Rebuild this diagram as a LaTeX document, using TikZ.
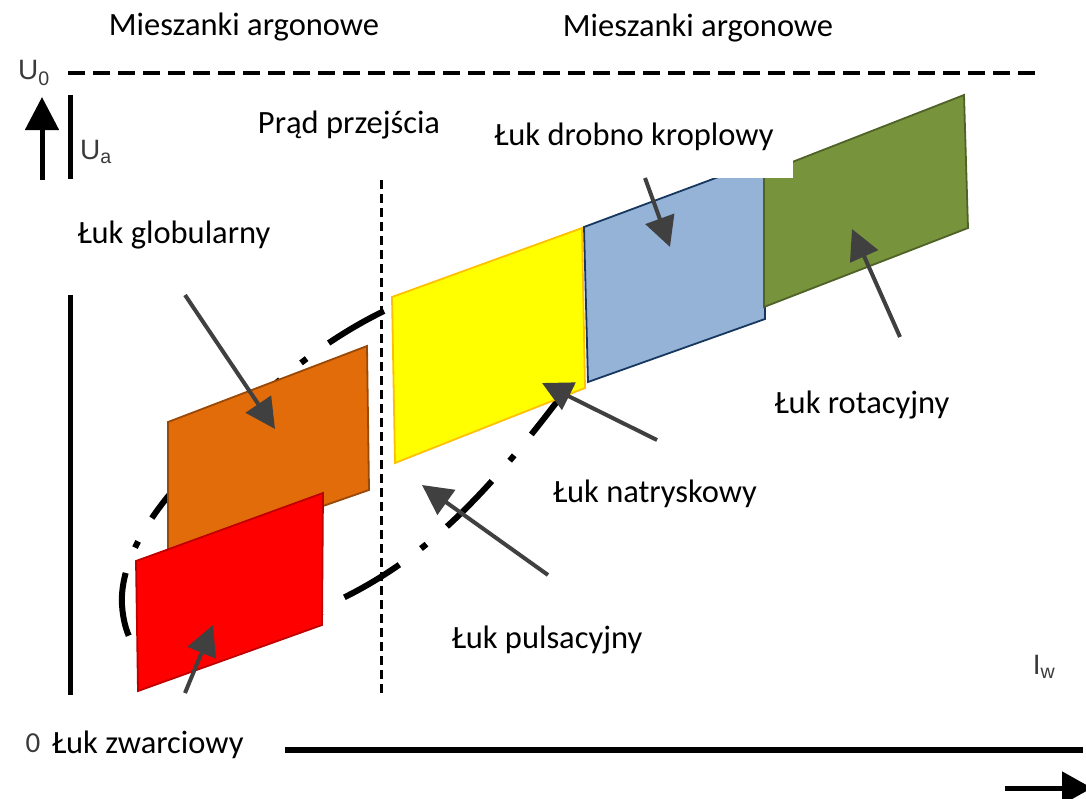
\documentclass[tikz,border=0pt]{standalone}
\usepackage{fontspec}
\setmainfont{Carlito}
\newfontfamily\axfont{Liberation Sans}
\usetikzlibrary{arrows.meta}
\definecolor{arrgray}{HTML}{404040}
\definecolor{axgray}{HTML}{3A3A3A}
\definecolor{redfill}{HTML}{FF0000}
\definecolor{redline}{HTML}{C00000}
\definecolor{orfill}{HTML}{E36C0A}
\definecolor{orline}{HTML}{984807}
\definecolor{yefill}{HTML}{FFFF00}
\definecolor{yeline}{HTML}{FFC000}
\definecolor{blfill}{HTML}{95B3D7}
\definecolor{blline}{HTML}{17375E}
\definecolor{grfill}{HTML}{77933C}
\definecolor{grline}{HTML}{4F6228}
\tikzset{
  lbl/.style={font=\fontsize{32.5}{38}\selectfont, inner sep=0pt, anchor=center},
  axlbl/.style={font=\axfont\fontsize{28}{32}\selectfont, text=axgray, inner sep=0pt},
  pointer/.style={draw=arrgray, line width=4pt, -{Triangle[length=30pt,width=30pt]}},
  regbox/.style={line width=1.8pt, line join=miter},
  envelope/.style={line width=6pt, dash pattern=on 64pt off 27pt on 7pt off 27pt},
  axisline/.style={line width=5pt},
}
\begin{document}
\begin{tikzpicture}[x=1pt,y=-1pt]
\useasboundingbox (0,0) rectangle (1086,798);
% top dashed U0 line
\coordinate (u0s) at (68,73);
\coordinate (u0e) at (1035,73);
\draw[line width=4pt, dash pattern=on 17pt off 8pt] (u0s) -- (u0e);
% vertical axis
\coordinate (va1) at (70,95);
\coordinate (va2) at (70,179);
\coordinate (va3) at (70,295);
\coordinate (va4) at (70,695);
\draw[axisline] (va1) -- (va2);
\draw[axisline] (va3) -- (va4);
% up arrow
\coordinate (upb) at (42,180);
\coordinate (upt) at (42,97);
\draw[line width=5pt, -{Triangle[length=33pt,width=33pt]}] (upb) -- (upt);
% transition dashed line
\coordinate (tr1) at (381,180);
\coordinate (tr2) at (381,697);
\draw[line width=3pt, dash pattern=on 9pt off 5pt] (tr1) -- (tr2);
% bottom axis
\coordinate (ha1) at (285,750);
\coordinate (ha2) at (1083,750);
\draw[line width=6pt] (ha1) -- (ha2);
\coordinate (hr1) at (1005,788);
\coordinate (hr2) at (1092,788);
\draw[line width=5pt, -{Triangle[length=30pt,width=32pt]}] (hr1) -- (hr2);
% envelope (dash-dot), lower branch
\draw[envelope, dash phase=14pt] (562,395) .. controls (490,490) and (430,555) .. (343,598)
  -- (310,620) .. controls (270,640) and (230,655) .. (200,662);
% envelope, upper branch
\draw[envelope] (384,311) .. controls (300,352) and (230,420) .. (170,494)
  .. controls (140,530) and (120,570) .. (122,605)
  .. controls (124,635) and (135,650) .. (148,662);
% boxes
\draw[regbox, fill=orfill, draw=orline] (168,422) -- (367,346) -- (369,490) -- (168,560) -- cycle;
\draw[regbox, fill=redfill, draw=redline] (136,561) -- (323,493) -- (322,625) -- (138,691) -- cycle;
\draw[regbox, fill=yefill, draw=yeline] (392,297) -- (582,228) -- (585,388) -- (395,463) -- cycle;
\draw[regbox, fill=blfill, draw=blline] (584,227) -- (764,160) -- (765,319) -- (588,382) -- cycle;
\draw[regbox, fill=grfill, draw=grline] (764,173) -- (964,95) -- (968,228) -- (764,307) -- cycle;
% white patch over the top of the blue and green regions
\fill[white] (470,100) rectangle (793,178);
% pointer arrows
\coordinate (gs) at (185,295);  \coordinate (gt) at (275,429);
\coordinate (zs) at (185,693);  \coordinate (zt) at (213,625);
\coordinate (ds) at (645,178);  \coordinate (dt) at (670,247);
\coordinate (rs) at (900,337);  \coordinate (rt) at (852,229);
\coordinate (ns) at (657,440);  \coordinate (nt) at (542,383);
\coordinate (ps) at (548,575);  \coordinate (pt) at (422,485);
\draw[pointer] (gs) -- (gt);
\draw[pointer] (zs) -- (zt);
\draw[pointer] (ds) -- (dt);
\draw[pointer] (rs) -- (rt);
\draw[pointer] (ns) -- (nt);
\draw[pointer] (ps) -- (pt);
% labels
\node[lbl] (mix1) at (244,27) {Mieszanki argonowe};
\node[lbl] (mix2) at (698,28) {Mieszanki argonowe};
\node[lbl] (tran) at (349,125) {Prąd przejścia};
\node[lbl] (drob) at (634,137) {Łuk drobno kroplowy};
\node[lbl] (glob) at (174,235) {Łuk globularny};
\node[lbl] (rota) at (862,405) {Łuk rotacyjny};
\node[lbl] (natr) at (655,494) {Łuk natryskowy};
\node[lbl] (puls) at (547,640) {Łuk pulsacyjny};
\node[lbl, anchor=west] (zwar) at (52,745) {Łuk zwarciowy};
\node[lbl, text=axgray, anchor=base, font=\fontsize{29}{34}\selectfont] (zero) at (33,752) {0};
\node[axlbl] (u0) at (34,73) {U\textsubscript{0}};
\node[axlbl] (ua) at (96,152) {U\textsubscript{a}};
\node[axlbl] (iw) at (1044,667) {I\textsubscript{w}};
\end{tikzpicture}
\end{document}
